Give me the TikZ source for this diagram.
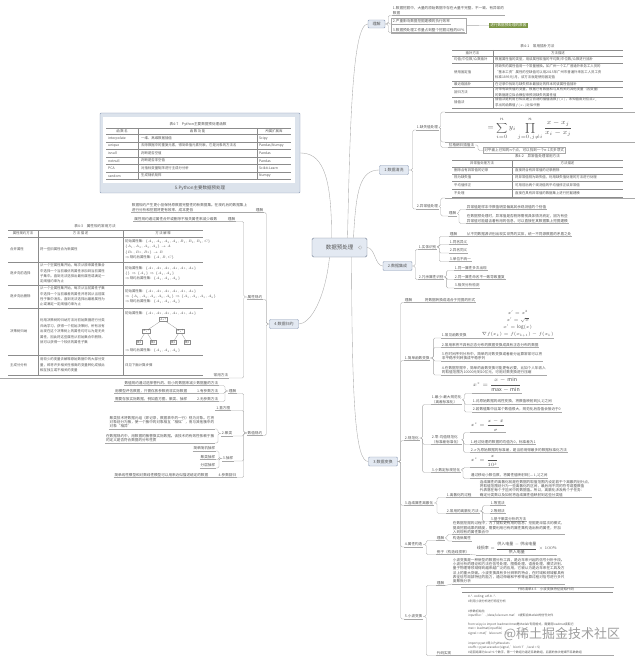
\RequirePackage{fix-cm}
\documentclass[tikz,border=0pt]{standalone}
\usepackage{amsmath}
\usepackage{fontspec}
\setmainfont{Noto Sans CJK SC}
\usetikzlibrary{positioning,arrows.meta,fit}
\XeTeXlinebreaklocale "zh"
\XeTeXlinebreakskip=0pt plus 0.5pt

\definecolor{topicfill}{HTML}{E3E9F2}
\definecolor{topicedge}{HTML}{8C9BB5}
\definecolor{linkgray}{HTML}{A8A8A8}
\definecolor{inkgray}{HTML}{555555}
\definecolor{rulegray}{HTML}{8C8C8C}
\definecolor{leafgreen}{HTML}{7B9543}
\definecolor{framefill}{HTML}{DCE3EC}
\definecolor{markgray}{HTML}{AFAFAF}

\newcommand{\leaffont}{\fontsize{3.6}{4.3}\selectfont}
\newcommand{\tabfont}{\fontsize{3.4}{5.4}\selectfont}
\newcommand{\codefont}{\fontsize{3}{4.4}\selectfont}

\begin{document}
\begin{tikzpicture}[x=1pt,y=-1pt,
  topic/.style={draw=topicedge,fill=topicfill,rounded corners=1pt,inner sep=0.8pt,
    minimum width=29pt,minimum height=9pt,font=\fontsize{4}{4}\selectfont,text=inkgray},
  link/.style={draw=linkgray,line width=0.35pt},
  brace/.style={link,rounded corners=1.5pt},
  leaf/.style={anchor=south west,inner sep=0.7pt,align=left,font=\leaffont,text=inkgray,
    append after command={(\tikzlastnode.south west) edge[link] (\tikzlastnode.south east)}},
  lleaf/.style={leaf,anchor=south east},
  imgbox/.style={anchor=south west,inner sep=0pt,
    append after command={(\tikzlastnode.south west) edge[link] (\tikzlastnode.south east)}},
  rulel/.style={draw=rulegray,line width=0.25pt},
  ruleh/.style={draw=rulegray,line width=0.5pt},
  cell/.style={inner sep=0pt,font=\tabfont,text=inkgray,align=left},
  formula/.style={leaf,font=\fontsize{4.5}{7}\selectfont,align=center},
  treebox/.style={draw=rulegray,line width=0.25pt,inner sep=0.6pt,font=\fontsize{2.8}{3}\selectfont,text=inkgray},
]
\fill[white] (0,0) rectangle (640,660);
\useasboundingbox (0,0) rectangle (640,660);

% centre
\node[topic,minimum width=55pt,minimum height=19pt,rounded corners=1.5pt,
  font=\fontsize{5.5}{5.5}\selectfont,draw=topicedge!80!black] (root) at (339.5,247.5) {数据预处理\hspace{8pt}};
\draw[markgray,line width=0.3pt] ([xshift=-7pt]root.east) circle (1.8pt);

\node[topic,minimum width=17pt,minimum height=8pt] (why) at (376.5,24) {理解};
\node[topic] (clean) at (394,170) {1.数据清洗};
\node[topic] (integ) at (397.5,266) {2.数据集成};
\node[topic] (trans) at (383,461.5) {3.数据变换};
\node[topic] (reduce) at (284,324) {4.数据归约};
\node[draw=topicedge,fill=framefill,rounded corners=1pt,minimum width=200pt,minimum height=80pt,inner sep=0pt] (python) at (200,153) {};

\draw[link] ([xshift=8pt]root.north) .. controls (350,130) and (352,24) .. (why.west);
\draw[link] ([xshift=14pt]root.north) .. controls (356,190) and (360,170) .. (clean.west);
\draw[link] (root.east) .. controls (375,247.5) and (375,266) .. (integ.west);
\draw[link] ([xshift=12pt]root.south) .. controls (352,400) and (355,461.5) .. (trans.west);
\draw[link] ([xshift=-8pt]root.north) .. controls (332,170) and (320,153) .. (python.east);
\draw[link] ([xshift=-10pt]root.south) .. controls (325,300) and (310,324) .. (reduce.east);

% 理解
\node[leaf] (why1) at (392,15.5) {1.数据挖掘中，大量的原始数据中存在大量不完整、不一致、有异常的\\数据};
\node[leaf] (why2) at (392,24) {2.严重影响数据挖掘建模的执行效率};
\node[leaf] (why3) at (392,32.5) {3.数据预处理工作量占到整个挖掘过程的60\%};
\node[draw=linkgray,line width=0.35pt,inner sep=1pt,fit=(why2)(why3)] (whybox) {};
\node[fill=leafgreen,text=white,font=\leaffont,inner sep=1.2pt,anchor=west] (goal) at (489,25.5) {进行数据预处理的原因};
\draw[link] (whybox.east) -- (goal.west);
\foreach \kid in {why1,why2,why3}
  \draw[brace] (why.east) -- ++(3,0) |- (\kid.south west);

% 1.数据清洗
\node[leaf] (miss) at (416,130) {1.缺失值处理};
\node[leaf] (outl) at (416,209) {2.异常值处理};
\foreach \kid in {miss,outl}
  \draw[brace] (clean.east) -- ++(4,0) |- (\kid.south west);

\node[imgbox,minimum width=190pt,minimum height=70pt] (tab41) at (445,112) {};
\node[cell,font=\fontsize{3.6}{4}\selectfont] (t41cap) at (537.5,46.5) {表4-1\quad 常用插补方法};
\draw[ruleh] (452,50) -- (623,50);
\draw[ruleh] (452,108) -- (623,108);
\foreach \y in {56,63,81,87,97} \draw[rulel] (452,\y) -- (623,\y);
\draw[rulel] (493,50) -- (493,108);
\node[cell] (t41h1) at (472.5,53) {插补方法};
\node[cell] (t41h2) at (558,53) {方法描述};
\node[cell,anchor=west] (t41a1) at (454,59.5) {均值/中位数/众数插补};
\node[cell,anchor=west] (t41a2) at (454,72) {使用固定值};
\node[cell,anchor=west] (t41a3) at (454,84) {最近临插补};
\node[cell,anchor=west] (t41a4) at (454,92) {回归方法};
\node[cell,anchor=west] (t41a5) at (454,102.5) {插值法};
\node[cell,anchor=west] (t41b1) at (495,59.5) {根据属性值的类型，用该属性取值的平均数/中位数/众数进行插补};
\node[cell,anchor=west] (t41b2) at (495,72) {将缺失的属性值用一个常量替换。如广州一个工厂普通外来务工人员的\\“基本工资”属性的空缺值可以用2015年广州市普通外来务工人员工资\\标准1895元/月，该方法就是使用固定值};
\node[cell,anchor=west] (t41b3) at (495,84) {在记录中找到与缺失样本最接近的样本的该属性值插补};
\node[cell,anchor=west] (t41b4) at (495,92) {对带有缺失值的变量，根据已有数据和与其有关的其他变量（因变量）\\的数据建立拟合模型来预测缺失的属性值};
\node[cell,anchor=west] (t41b5) at (495,102.5) {插值法是利用已知点建立合适的插值函数$f(x)$，未知值由对应点$x_i$\\求出的函数值$f(x_i)$近似代替};

\node[imgbox,minimum width=190pt,minimum height=29pt] (lagf) at (445,142) {};
\node[inner sep=0pt,text=inkgray,font=\fontsize{7}{8}\selectfont] (lagexpr) at (530,129)
  {$\displaystyle =\sum_{i=0}^{n} y_i\prod_{j=0,j\neq i}^{n}\frac{x-x_j}{x_i-x_j}$};
\node[leaf] (lagr) at (448,147.5) {拉格朗日插值法};
\node[draw=linkgray,line width=0.35pt,font=\leaffont,text=inkgray,inner sep=1.2pt,anchor=west] (lagdesc) at (483,150.5) {对平面上已知的n个点，可以找到一个n-1次多项式};
\draw[brace] (lagr.east) -- ++(3,0) |- (lagdesc.west);
\foreach \kid in {tab41,lagf,lagr}
  \draw[brace] (miss.east) -- ++(2,0) |- (\kid.south west);

\node[imgbox,minimum width=190pt,minimum height=45pt] (tab42) at (445,198) {};
\node[cell,font=\fontsize{3.6}{4}\selectfont] (t42cap) at (537.5,156.5) {表4-2\quad 异常值处理常用方法};
\draw[ruleh] (452,160) -- (623,160);
\draw[ruleh] (452,197) -- (623,197);
\foreach \y in {167,174,181,189} \draw[rulel] (452,\y) -- (623,\y);
\draw[rulel] (512,160) -- (512,197);
\node[cell] (t42h1) at (482,163.5) {异常值处理方法};
\node[cell] (t42h2) at (567.5,163.5) {方法描述};
\node[cell,anchor=west] (t42a1) at (454,170.5) {删除含有异常值的记录};
\node[cell,anchor=west] (t42a2) at (454,177.5) {视为缺失值};
\node[cell,anchor=west] (t42a3) at (454,185) {平均值修正};
\node[cell,anchor=west] (t42a4) at (454,193) {不处理};
\node[cell,anchor=west] (t42b1) at (515,170.5) {直接将含有异常值的记录删除};
\node[cell,anchor=west] (t42b2) at (515,177.5) {将异常值视为缺失值，利用缺失值处理的方法进行处理};
\node[cell,anchor=west] (t42b3) at (515,185) {可用前后两个观测值的平均值修正该异常值};
\node[cell,anchor=west] (t42b4) at (515,193) {直接在具有异常值的数据集上进行挖掘建模};

\node[leaf] (outlwhy) at (448,216) {理解};
\foreach \kid in {tab42,outlwhy}
  \draw[brace] (outl.east) -- ++(2,0) |- (\kid.south west);
\node[leaf] (outlA) at (466,209.5) {异常值是样本中数值明显偏离其余观测值的个别值};
\node[leaf] (outlB) at (466,223.5) {在数据预处理时，异常值是否剔除需视具体情况而定，因为有些\\异常值可能蕴含着有用的信息，可以直接在其数据集上挖掘建模};
\foreach \kid in {outlA,outlB}
  \draw[brace] (outlwhy.east) -- ++(2,0) |- (\kid.south west);

% 2.数据集成
\node[leaf] (ent) at (418,249.5) {1.实体识别};
\node[leaf] (redund) at (418,279.5) {2.冗余属性识别};
\foreach \kid in {ent,redund}
  \draw[brace] (integ.east) -- ++(3,0) |- (\kid.south west);
\node[leaf] (entwhy) at (449,236.5) {理解};
\node[leaf] (entdef) at (466,236.5) {从不同数据源识别出现实世界的实体，统一不同源数据的矛盾之处};
\draw[link] (entwhy.south east) -- (entdef.south west);
\node[leaf] (ent1) at (449,244.5) {1.同名异义};
\node[leaf] (ent2) at (449,253) {2.异名同义};
\node[leaf] (ent3) at (449,261.5) {3.单位不统一};
\foreach \kid in {entwhy,ent1,ent2,ent3}
  \draw[brace] (ent.east) -- ++(2,0) |- (\kid.south west);
\node[leaf] (red1) at (454,270.5) {1.同一属性多次出现};
\node[leaf] (red2) at (454,279.5) {2.同一属性命名不一致导致重复};
\node[leaf] (red3) at (454,288) {3.相关分析检测};
\foreach \kid in {red1,red2,red3}
  \draw[brace] (redund.east) -- ++(2,0) |- (\kid.south west);

% 3.数据变换
\node[leaf] (transwhy) at (404,302.5) {理解};
\node[leaf] (transdef) at (424,302.5) {将数据转换成适合于挖掘的形式};
\draw[link] (transwhy.south east) -- (transdef.south west);
\node[leaf] (func) at (404,360.5) {1.简单函数变换};
\node[leaf] (norm) at (404,440.5) {2.规范化};
\node[leaf] (disc) at (404,505.5) {3.连续属性离散化};
\node[leaf] (cons) at (404,547) {4.属性构造};
\node[leaf] (wave) at (404,619) {5.小波变换};
\foreach \kid in {transwhy,func,norm,disc,cons,wave}
  \draw[brace] (trans.east) -- ++(3,0) |- (\kid.south west);

\node[leaf] (func1) at (441,338) {1.常见函数变换};
\node[formula] (funcf) at (481,338) {$x'=x^2$\\$x'=\sqrt{x}$\\$x'=\log(x)$\\$\nabla f(x_k)=f(x_{k+1})-f(x_k)$};
\draw[link] (func1.south east) -- (funcf.south west);
\node[leaf] (func2) at (441,347.5) {2.常用来将不具有正态分布的数据变换成具有正态分布的数据};
\node[leaf] (func3) at (441,361) {3.在时间序列分析中，简单的对数变换或者差分运算常常可以将\\非平稳序列转换成平稳序列};
\node[leaf] (func4) at (441,375) {4.在数据挖掘中，简单的函数变换可能更有必要，比如个人年收入\\的取值范围为10000元到10亿元，可用对数变换进行压缩};
\foreach \kid in {func1,func2,func3,func4}
  \draw[brace] (func.east) -- ++(3,0) |- (\kid.south west);

\node[leaf] (norm1) at (431,404.5) {1.最小-最大规范化\\（离差标准化）};
\node[leaf] (norm2) at (431,444.5) {2.零-均值规范化\\（标准差标准化）};
\node[leaf] (norm3) at (431,472.5) {3.小数定标规范化};
\foreach \kid in {norm1,norm2,norm3}
  \draw[brace] (norm.east) -- ++(3,0) |- (\kid.south west);
\node[formula,font=\fontsize{5.3}{6}\selectfont] (mmf) at (472,393.5) {$x^{*}=\dfrac{x-\min}{\max-\min}$};
\node[leaf] (mm1) at (472,404.5) {1.对原始数据的线性变换，将数值映射到[0,1]之间};
\node[leaf] (mm2) at (472,412) {2.若数值集中且某个数值很大，规范化后各值会接近于0};
\foreach \kid in {mmf,mm1,mm2}
  \draw[brace] (norm1.east) -- ++(2,0) |- (\kid.south west);
\node[formula,font=\fontsize{4.8}{6}\selectfont] (zf) at (470,432.5) {$x^{*}=\dfrac{x-\bar{x}}{\sigma}$};
\node[leaf] (z1) at (470,444.5) {1.经过处理的数据的均值为0，标准差为1};
\node[leaf] (z2) at (470,452.5) {2.$\sigma$为原始数据的标准差，是当前用得最多的数据标准化方法};
\foreach \kid in {zf,z1,z2}
  \draw[brace] (norm2.east) -- ++(2,0) |- (\kid.south west);
\node[formula,font=\fontsize{4.8}{6}\selectfont] (df) at (470,467.5) {$x^{*}=\dfrac{x}{10^{k}}$};
\node[leaf] (d1) at (470,478.5) {通过移动小数位数，将属性值映射到[$-1$,1]之间};
\foreach \kid in {df,d1}
  \draw[brace] (norm3.east) -- ++(2,0) |- (\kid.south west);

\node[leaf] (discp) at (446,497.5) {1.离散化的过程};
\node[leaf] (discm) at (446,513.5) {2.常用的离散化方法};
\foreach \kid in {discp,discm}
  \draw[brace] (disc.east) -- ++(3,0) |- (\kid.south west);
\node[leaf] (discpt) at (479,497.5) {连续属性的离散化就是在数据的取值范围内设定若干个离散的划分点，\\将取值范围划分为一些离散化的区间，最后用不同的符号或整数值\\代表落在每个子区间中的数据值。所以，离散化涉及两个子任务：\\确定分类数以及如何将连续属性值映射到这些分类值};
\draw[link] (discp.south east) -- (discpt.south west);
\node[leaf] (dm1) at (490,505.5) {1.等宽法};
\node[leaf] (dm2) at (490,513.5) {2.等频法};
\node[leaf] (dm3) at (490,521.5) {3.基于聚类分析的方法};
\foreach \kid in {dm1,dm2,dm3}
  \draw[brace] (discm.east) -- ++(3,0) |- (\kid.south west);

\node[leaf] (conswhy) at (436,540.5) {理解};
\node[leaf] (consex) at (436,554.5) {例子（构造线损率）};
\foreach \kid in {conswhy,consex}
  \draw[brace] (cons.east) -- ++(3,0) |- (\kid.south west);
\node[leaf] (conswt) at (452,534.5) {在数据挖掘的过程中，为了提取更有用的信息，挖掘更深层次的模式，\\提高挖掘结果的精度，需要利用已有的属性集构造出新的属性，并加\\入到现有的属性集合中};
\node[leaf] (consnew) at (452,541) {构造新属性};
\foreach \kid in {conswt,consnew}
  \draw[brace] (conswhy.east) -- ++(2,0) |- (\kid.south west);
\node[formula,font=\fontsize{4}{5}\selectfont] (consf) at (476,555)
  {$\text{线损率}=\dfrac{\text{供入电量}-\text{供出电量}}{\text{供入电量}}\times 100\%$};
\draw[link] (consex.south east) -- (consf.south west);

\node[leaf] (wavewhy) at (436,585.5) {理解};
\node[leaf] (wavecode) at (436,655.5) {代码实现};
\foreach \kid in {wavewhy,wavecode}
  \draw[brace] (wave.east) -- ++(3,0) |- (\kid.south west);
\node[leaf] (wavet) at (452,584) {小波变换是一种新型的数据分析工具，是近年来兴起的信号分析手段。\\小波分析的理论和方法在信号处理、图像处理、语音处理、模式识别、\\量子物理等领域得到越来越广泛的应用，它被认为是近年来在工具及方\\法上的重大突破。小波变换具有多分辨率的特点，在时域和频域都具有\\表征信号局部特征的能力，通过伸缩和平移等运算过程对信号进行多尺\\度聚焦分析};
\draw[link] (wavewhy.south east) -- (wavet.south west);
\node[imgbox,minimum width=153pt,minimum height=68pt] (code) at (461,655.5) {};
\draw[link] (code.north west) -- (code.north east);
\draw[link] (wavecode.south east) -- (code.south west);
\node[cell,font=\fontsize{3.4}{4}\selectfont] (codecap) at (546,589.5) {代码清单4-5\quad 小波变换特征提取代码};
\draw[rulel] (462,592.5) -- (613,592.5);
\node[cell,font=\codefont,anchor=north west] (codetext) at (468,595)
  {\#-*- coding: utf-8 -*-\\\#利用小波分析进行特征分析\\[5.6pt]
   \#参数初始化\\inputfile= '../data/leleccum.mat' \#提取自Matlab的信号文件\\[4.6pt]
   from scipy.io import loadmat \#mat是Matlab专用格式，需要用loadmat读取它\\mat = loadmat(inputfile)\\signal = mat['leleccum'][0]\\[5.6pt]
   import pywt \#导入PyWavelets\\coeffs = pywt.wavedec(signal, 'bior3.7', level = 5)\\\#返回结果为level+1个数字，第一个数组为逼近系数数组，后面的依次是细节系数数组};
\node[font=\fontsize{13}{13}\selectfont,text=black!38,inner sep=0pt] (mark) at (562,634.5) {@稀土掘金技术社区};

% 5.Python
\fill[white] (103,117) rectangle (295,183);
\node[cell,font=\fontsize{3.6}{4}\selectfont] (pycap0) at (198,124.5) {表4-7\quad Python主要数据预处理函数};
\draw[ruleh] (106,128) -- (291,128);
\draw[ruleh] (106,179.5) -- (291,179.5);
\foreach \y in {134.5,142,149.5,157,164.5,172} \draw[rulel] (106,\y) -- (291,\y);
\foreach \x in {138,257} \draw[rulel] (\x,128) -- (\x,179.5);
\node[cell] (pyh1) at (122,131.3) {函\,数\,名};
\node[cell] (pyh2) at (197.5,131.3) {函\,数\,功\,能};
\node[cell] (pyh3) at (274,131.3) {所属扩展库};
\foreach \y/\fn/\job/\lib [count=\i] in {
  138.2/interpolate/{一维、高维数据插值}/Scipy,
  145.7/unique/{去除数据中的重复元素，得到单值元素列表，它是对象的方法名}/{Pandas/Numpy},
  153.2/isnull/{判断是否空值}/Pandas,
  160.7/notnull/{判断是否非空值}/Pandas,
  168.2/PCA/{对指标变量矩阵进行主成分分析}/Scikit-Learn,
  175.7/random/{生成随机矩阵}/Numpy}{
  \node[cell,anchor=west] (pya\i) at (108,\y) {\fn};
  \node[cell,anchor=west] (pyb\i) at (141,\y) {\job};
  \node[cell,anchor=west] (pyc\i) at (259,\y) {\lib};
}
\node[font=\fontsize{4.5}{4.5}\selectfont,text=inkgray,inner sep=0pt] (pycap) at (200,188.5) {5.Python主要数据预处理};

% 4.数据归约
\node[lleaf] (redwhy) at (264,212.5) {理解};
\node[lleaf] (attr) at (263,299.5) {属性规约};
\node[lleaf] (num) at (263,435.5) {数值规约};
\foreach \kid in {redwhy,attr,num}
  \draw[brace] (reduce.west) -- ++(-3,0) |- (\kid.south east);
\node[lleaf] (redwt) at (248,212.5) {数据规约产生更小但保持原数据完整性的新数据集。在规约后的数据集上\\进行分析和挖掘将更有效率、成本更低};
\draw[link] (redwhy.south west) -- (redwt.south east);

\node[lleaf] (attrwhy) at (236,221.5) {理解};
\node[lleaf] (attrwt) at (218,221.5) {属性规约通过属性合并或删除不相关属性来减少维数};
\draw[link] (attrwhy.south west) -- (attrwt.south east);
\node[lleaf] (attrm) at (229,378) {常用方法};
\foreach \kid in {attrwhy,attrm}
  \draw[brace] (attr.west) -- ++(-3,0) |- (\kid.south east);

\node[imgbox,minimum width=206pt,minimum height=153pt] (tab43) at (0,378) {};
\draw[link] (tab43.south east) -- (attrm.south west);
\node[cell,font=\fontsize{3.6}{4}\selectfont] (t43cap) at (95,226.5) {表4-3\quad 属性规约常用方法};
\draw[ruleh] (8,230) -- (203,230);
\draw[ruleh] (8,375) -- (203,375);
\foreach \y in {237,262,285,308,355} \draw[rulel] (8,\y) -- (203,\y);
\foreach \x in {38,123} \draw[rulel] (\x,230) -- (\x,375);
\node[cell] (t43h1) at (23,233.5) {属性规约方法};
\node[cell] (t43h2) at (80.5,233.5) {方\,法\,描\,述};
\node[cell] (t43h3) at (163,233.5) {方\,法\,解\,释};
\node[cell,anchor=west] (t43a1) at (10,249.5) {合并属性};
\node[cell,anchor=west] (t43a2) at (10,273.5) {逐步向前选择};
\node[cell,anchor=west] (t43a3) at (10,296.5) {逐步向后删除};
\node[cell,anchor=west] (t43a4) at (10,331.5) {决策树归纳};
\node[cell,anchor=west] (t43a5) at (10,365) {主成分分析};
\node[cell,anchor=west] (t43b1) at (40,249.5) {将一些旧属性合为新属性};
\node[cell,anchor=west] (t43b2) at (40,273.5) {从一个空属性集开始，每次从原来属性集合\\中选择一个当前最优的属性添加到当前属性\\子集中。直到无法选择出最优属性或满足一\\定阈值约束为止};
\node[cell,anchor=west] (t43b3) at (40,296.5) {从一个全属性集开始，每次从当前属性子集\\中选择一个当前最差的属性并将其从当前属\\性子集中消去。直到无法选择出最差属性为\\止或满足一定阈值约束为止};
\node[cell,anchor=west] (t43b4) at (40,331.5) {利用决策树的归纳方法对初始数据进行分类\\归纳学习，获得一个初始决策树，所有没有\\出现在这个决策树上的属性均可认为是无关\\属性，因此将这些属性从初始集合中删除，\\就可以获得一个较优的属性子集};
\node[cell,anchor=west] (t43b5) at (40,365) {用较少的变量去解释原始数据中的大部分变\\量，即将许多相关性很高的变量转化成彼此\\相互独立或不相关的变量};
\node[cell,anchor=west] (t43c1) at (125,249.5) {初始属性集：$\{A_1,A_2,A_3,A_4,B_1,B_2,B_3,C\}$\\$\{A_1,A_2,A_3,A_4\}\rightarrow A$\\$\{B_1,B_2,B_3\}\rightarrow B$\\$\Rightarrow$规约后属性集：$\{A,B,C\}$};
\node[cell,anchor=west] (t43c2) at (125,273.5) {初始属性集：$\{A_1,A_2,A_3,A_4,A_5,A_6\}$\\$\{\}\Rightarrow\{A_1\}\Rightarrow\{A_1,A_4\}$\\$\Rightarrow$规约后属性集：$\{A_1,A_4,A_6\}$};
\node[cell,anchor=west] (t43c3) at (125,296.5) {初始属性集：$\{A_1,A_2,A_3,A_4,A_5,A_6\}$\\$\Rightarrow\{A_1,A_3,A_4,A_5,A_6\}\Rightarrow\{A_1,A_4,A_5,A_6\}$\\$\Rightarrow$规约后属性集：$\{A_1,A_4,A_6\}$};
\node[cell,anchor=west] (t43c4) at (125,313) {初始属性集：$\{A_1,A_2,A_3,A_4,A_5,A_6\}$};
\node[cell,anchor=west] (t43c5) at (125,350.5) {$\Rightarrow$规约后属性集：$\{A_1,A_4,A_6\}$};
\node[cell,anchor=west] (t43c6) at (125,365) {详见下面计算步骤};
\node[treebox] (tr0) at (163,319.5) {$A_4$?};
\node[treebox] (tr1) at (146,331) {$A_1$?};
\node[treebox] (tr2) at (180,331) {$A_6$?};
\node[treebox] (tl1) at (139,342.5) {类1};
\node[treebox] (tl2) at (153,342.5) {类2};
\node[treebox] (tl3) at (173,342.5) {类1};
\node[treebox] (tl4) at (187,342.5) {类2};
\foreach \a/\b in {tr0/tr1,tr0/tr2,tr1/tl1,tr1/tl2,tr2/tl3,tr2/tl4}
  \draw[rulel] (\a) -- (\b);

\node[lleaf] (numwhy) at (237,393.5) {理解};
\node[lleaf] (hist) at (231,410.5) {1.直方图};
\node[lleaf] (clus) at (233,436) {2.聚类};
\node[lleaf] (samp) at (234,461) {3.抽样};
\node[lleaf] (regr) at (237,477.5) {4.参数回归};
\foreach \kid in {numwhy,hist,clus,samp,regr}
  \draw[brace] (num.west) -- ++(-3,0) |- (\kid.south east);
\node[lleaf] (numw0) at (219,385.5) {数值规约通过选择替代的、较小的数据来减少数据量的方法};
\node[lleaf] (nump) at (219,393.5) {1.有参数方法};
\node[lleaf] (numn) at (219,401.5) {2.无参数方法};
\foreach \kid in {numw0,nump,numn}
  \draw[brace] (numwhy.west) -- ++(-3,0) |- (\kid.south east);
\node[lleaf] (numpt) at (188,393.5) {用模型评估数据，只需存放参数而非实际数据};
\node[lleaf] (numnt) at (188,401.5) {需要存放实际数据，例如直方图、聚类、抽样};
\draw[link] (nump.south west) -- (numpt.south east);
\draw[link] (numn.south west) -- (numnt.south east);
\node[lleaf] (clus1) at (215,429) {聚类技术将数据元组（即记录，数据表中的一行）视为对象。它将\\对象划分为簇，使一个簇中的对象相互“相似”，而与其他簇中的\\对象“相异”};
\node[lleaf] (clus2) at (215,443) {在数据规约中，用数据的簇替换实际数据。该技术的有效性依赖于簇\\的定义是否符合数据的分布性质};
\foreach \kid in {clus1,clus2}
  \draw[brace] (clus.west) -- ++(-3,0) |- (\kid.south east);
\node[lleaf] (s1) at (216,451) {简单随机抽样};
\node[lleaf] (s2) at (216,459.5) {聚类抽样};
\node[lleaf] (s3) at (216,468) {分层抽样};
\foreach \kid in {s1,s2,s3}
  \draw[brace] (samp.west) -- ++(-3,0) |- (\kid.south east);
\node[lleaf] (regrt) at (209,477.5) {简单线性模型和对数线性模型可以用来近似描述给定的数据};
\draw[link] (regr.south west) -- (regrt.south east);
\end{tikzpicture}
\end{document}
